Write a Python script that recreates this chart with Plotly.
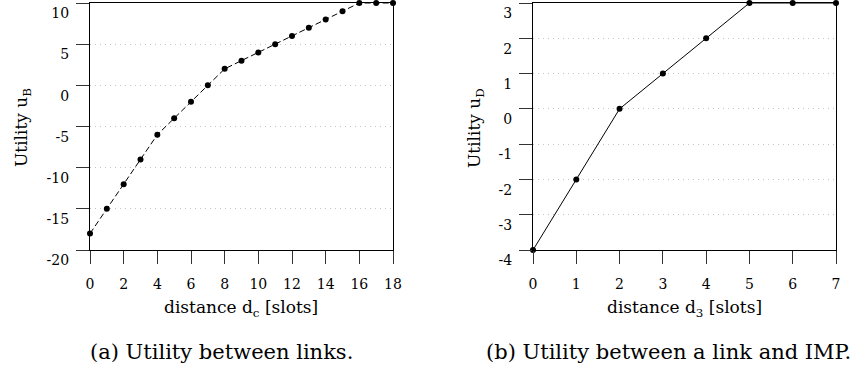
import plotly.graph_objects as go

# Utility between links as a function of distance d_c
dist_links = list(range(0, 19))
util_links = [-18, -15, -12, -9, -6, -4, -2, 0, 2, 3, 4, 5, 6, 7, 8, 9, 10, 10, 10]

# Utility between a link and IMP as a function of distance d_3
dist_imp = list(range(0, 8))
util_imp = [-4, -2, 0, 1, 2, 3, 3, 3]

# Tick labels
ytick_links = [-20, -15, -10, -5, 0, 5, 10]
xtick_links = [0, 2, 4, 6, 8, 10, 12, 14, 16, 18]
ytick_imp = [-4, -3, -2, -1, 0, 1, 2, 3]
xtick_imp = [0, 1, 2, 3, 4, 5, 6, 7]

W, H = 859, 373
FONT = "DejaVu Serif"

def px(x):
    return x / W

def py(y):
    return 1 - y / H

fig = go.Figure()

fig.add_trace(go.Scatter(
    x=dist_links, y=util_links, mode="lines+markers",
    line=dict(color="black", width=1, dash="6px,3px"),
    marker=dict(color="black", size=6),
    cliponaxis=False, showlegend=False, xaxis="x", yaxis="y",
))
fig.add_trace(go.Scatter(
    x=dist_imp, y=util_imp, mode="lines+markers",
    line=dict(color="black", width=1),
    marker=dict(color="black", size=6),
    cliponaxis=False, showlegend=False, xaxis="x2", yaxis="y2",
))

top, bottom = 3, 250
ydom = [py(bottom), py(top)]
EPS = 1e-4

common = dict(
    showline=True, mirror=True, linecolor="black", linewidth=1.2,
    ticks="outside", ticklen=13, tickcolor="#333", tickwidth=1.2,
    tickfont=dict(family=FONT, size=14, color="black"),
    zeroline=False, ticklabeloverflow="allow", automargin=False,
)
grid = dict(showgrid=True, gridcolor="#c4c4c4", griddash="1px,4px", gridwidth=1)

def fmt(v):
    return str(v)

xcommon = dict(showgrid=False, ticklabelposition="outside", ticklabelstandoff=8, **common)
# y labels hang just below their tick, so the top label stays inside the page
ycommon = dict(ticklabelposition="outside bottom", ticklabelstandoff=17, **grid, **common)

fig.update_layout(
    width=W, height=H, margin=dict(l=0, r=0, t=0, b=0, autoexpand=False),
    paper_bgcolor="white", plot_bgcolor="white",
    font=dict(family=FONT, color="black"),
    xaxis=dict(domain=[px(90), px(393)], range=[0 - EPS, 18 + EPS], anchor="y",
               tickvals=xtick_links, ticktext=[fmt(v) for v in xtick_links], **xcommon),
    yaxis=dict(domain=ydom, range=[-20 - EPS, 10 + EPS], anchor="x",
               tickvals=ytick_links, ticktext=[fmt(v) for v in ytick_links], **ycommon),
    xaxis2=dict(domain=[px(533), px(836)], range=[0 - EPS, 7 + EPS], anchor="y2",
                tickvals=xtick_imp, ticktext=[fmt(v) for v in xtick_imp], **xcommon),
    yaxis2=dict(domain=ydom, range=[-4 - EPS, 3 + EPS], anchor="x2",
                tickvals=ytick_imp, ticktext=[fmt(v) for v in ytick_imp], **ycommon),
)

ann = []
# x-axis titles
ann.append(dict(x=px(241), y=py(308), text="distance d<sub>c</sub> [slots]"))
ann.append(dict(x=px(684), y=py(308), text="distance d<sub>3</sub> [slots]"))
# y-axis titles
ann.append(dict(x=px(22), y=py(128), text="Utility u<sub>B</sub>", textangle=-90))
ann.append(dict(x=px(475), y=py(128), text="Utility u<sub>D</sub>", textangle=-90))
for a in ann:
    a.update(xref="paper", yref="paper", showarrow=False,
             xanchor="center", yanchor="middle",
             font=dict(family=FONT, size=17, color="black"))
# captions
for x, t in [(221, "(a) Utility between links."), (668, "(b) Utility between a link and IMP.")]:
    ann.append(dict(x=px(x), y=py(352), text=t, xref="paper", yref="paper",
                    showarrow=False, xanchor="center", yanchor="middle",
                    font=dict(family=FONT, size=21, color="black")))
fig.update_layout(annotations=ann)

fig.write_html("out.html")
